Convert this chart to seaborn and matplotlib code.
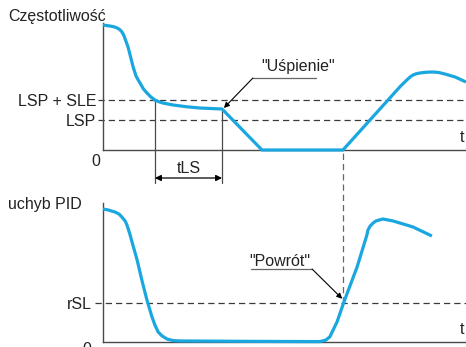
import matplotlib
matplotlib.use("Agg")
import matplotlib.pyplot as plt
import seaborn as sns
import pandas as pd

# ---- data (time in arbitrary units 0..100) ----
freq_t = [0, 1.9, 3.0, 3.9, 4.5, 5.0, 5.4, 5.8, 6.3, 6.9, 7.5, 8.3, 9.1, 9.7, 10.2, 11.1, 12.1,
          13.2, 14.3, 15.4, 16.5, 19.3, 23.0, 26.7, 32.8,
          43.8, 66.1, 82.0, 83.0, 83.7, 84.6, 85.4, 86.3, 87.3, 89.0, 90.9, 92.5, 94.2, 97.0, 100]
freq_v = [50, 49.6, 49.3, 48.8, 48.3, 47.6, 46.8, 45.6, 43.6, 41.2, 37.8, 33.2, 29.6, 28.0, 26.8,
          24.5, 22.8, 21.2, 20, 19.3, 18.8, 18, 17.3, 16.8, 16.4,
          0, 0, 25.6, 27.0, 28.0, 29.2, 30.0, 30.5, 30.8, 31.1, 31.2, 31.0, 30.4, 29.2, 27.2]

err_t = [0, 1.4, 3.3, 4.4, 5.2, 6.1, 6.6, 7.4, 8.0, 9.4, 10.7, 12.1, 13.5, 14.3, 15.2, 16.3,
         17.6, 19.3, 21.2, 40.0, 59.8, 61.4, 62.5, 63.4, 64.5, 66.4, 70.0, 72.7, 73.0, 73.6,
         74.4, 75.2, 77.1, 79.9, 85.4, 90.6]
err_v = [101.5, 100.8, 99.2, 97.7, 95.4, 92.4, 89.3, 82.4, 76.3, 62.6, 47.3, 32.1, 19.1, 13.0,
         7.6, 4.6, 2.3, 1.1, 0.8, 0.5, 0.3, 1.5, 4.0, 9.2, 15.5, 30.8, 57.3, 81.7, 85.5, 88.5,
         90.8, 92.4, 93.9, 92.4, 87.8, 80.9]

LSP = 12
LSP_SLE = 20
RSL = 30
t_sleep_start = 14.3
t_sleep = 32.8
t_wake = 66.1

top_labels = ["LSP", "LSP + SLE"]
top_ticks = [LSP, LSP_SLE]

sns.set_theme(style="white")
plt.rcParams['font.family'] = ['Liberation Sans', 'DejaVu Sans']

W, H = 466, 347
fig = plt.figure(figsize=(W / 100, H / 100), dpi=100)

def px_axes(x0, y0, x1, y1):
    return fig.add_axes([x0 / W, 1 - y1 / H, (x1 - x0) / W, (y1 - y0) / H])

ax1 = px_axes(103, 20, 466, 150)
ax2 = px_axes(103, 203, 466, 342)

blue = "#1AA7E0"
axc = "#4a4a4a"
dashc = "#3a3a3a"
tc = "#222222"
fs = 11.5

for ax in (ax1, ax2):
    ax.set_facecolor("none")
    ax.set_xlim(0, 100)
    for s in ("top", "right"):
        ax.spines[s].set_visible(False)
    for s in ("left", "bottom"):
        ax.spines[s].set_color(axc)
        ax.spines[s].set_linewidth(1.0)
    ax.set_xticks([])

ax1.set_ylim(0, 52)
ax2.set_ylim(0, 106.1)
ax1.spines["left"].set_bounds(0, 50.8)

df1 = pd.DataFrame({"t": freq_t, "v": freq_v})
df2 = pd.DataFrame({"t": err_t, "v": err_v})
sns.lineplot(data=df1, x="t", y="v", ax=ax1, color=blue, lw=2.3, solid_joinstyle="round",
             solid_capstyle="butt", clip_on=False, zorder=5)
sns.lineplot(data=df2, x="t", y="v", ax=ax2, color=blue, lw=2.3, solid_joinstyle="round",
             solid_capstyle="butt", clip_on=False, zorder=5)
for ax in (ax1, ax2):
    ax.set_xlabel("")
    ax.set_ylabel("")

# threshold lines
for yv in top_ticks:
    ax1.plot([-1.5, 100], [yv, yv], ls=(0, (5, 3.2)), color=dashc, lw=0.9, clip_on=False, zorder=2)
ax2.plot([-2.2, 100], [RSL, RSL], ls=(0, (5, 3.2)), color=dashc, lw=0.9, clip_on=False, zorder=2)

ax1.set_yticks(top_ticks)
ax1.set_yticklabels(top_labels, fontsize=fs, color=tc)
ax1.tick_params(axis="y", length=0, pad=5)
ax2.set_yticks([RSL])
ax2.set_yticklabels(["rSL"], fontsize=fs, color=tc)
ax2.tick_params(axis="y", length=0, pad=8)

# tLS markers
for tv, top in ((t_sleep_start, LSP_SLE), (t_sleep, 16.4)):
    ax1.plot([tv, tv], [top, -13.2], color=axc, lw=0.9, clip_on=False, zorder=3)
ax1.annotate("", xy=(t_sleep_start, -11.2), xytext=(t_sleep, -11.2),
             arrowprops=dict(arrowstyle="<|-|>", color="black", lw=0.9, mutation_scale=9,
                             shrinkA=0, shrinkB=0), annotation_clip=False)
ax1.text((t_sleep_start + t_sleep) / 2, -7.5, "tLS", ha="center", va="center", fontsize=fs,
         color=tc)

# wake-up vertical dashed line
ax2.plot([t_wake, t_wake], [RSL, 145.8], ls=(0, (5, 3.2)), color="#666", lw=0.9,
         clip_on=False, zorder=2)

# annotations
ax1.text(53.7, 33.2, '"Uśpienie"', ha="center", va="center", fontsize=fs, color=tc)
ax1.plot([41.3, 58.8], [28.8, 28.8], color="#666", lw=0.9, clip_on=False)
ax1.annotate("", xy=(33.3, 16.8), xytext=(41.3, 28.8),
             arrowprops=dict(arrowstyle="-|>", color="black", lw=0.8, mutation_scale=8,
                             shrinkA=0, shrinkB=0), annotation_clip=False)

ax2.text(48.8, 61.1, '"Powrót"', ha="center", va="center", fontsize=fs, color=tc)
ax2.plot([40.8, 57.6], [55.7, 55.7], color="#666", lw=0.9, clip_on=False)
ax2.annotate("", xy=(65.9, 33.0), xytext=(57.6, 55.7),
             arrowprops=dict(arrowstyle="-|>", color="black", lw=0.8, mutation_scale=8,
                             shrinkA=0, shrinkB=0), annotation_clip=False)

# axis labels / zeros / t
fig.text(8 / W, 1 - 17 / H, "Częstotliwość", ha="left", va="center", fontsize=fs, color=tc)
fig.text(8 / W, 1 - 205 / H, "uchyb PID", ha="left", va="center", fontsize=fs, color=tc)
fig.text(96 / W, 1 - 162 / H, "0", ha="center", va="center", fontsize=fs, color=tc)
fig.text(87 / W, 1 - 350 / H, "0", ha="center", va="center", fontsize=fs, color=tc)
ax1.text(98.9, 5.2, "t", ha="center", va="center", fontsize=fs, color=tc)
ax2.text(98.9, 9.2, "t", ha="center", va="center", fontsize=fs, color=tc)

fig.savefig("out.png", dpi=100)
